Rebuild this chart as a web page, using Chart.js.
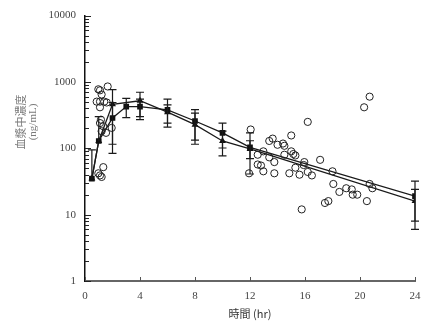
<!DOCTYPE html>
<html>
<head>
<meta charset="utf-8">
<script src="https://cdn.jsdelivr.net/npm/chart.js@4"></script>
<style>
  body { margin: 0; background: #fff; }
  #wrap { width: 436px; height: 323px; }
</style>
</head>
<body>
<div id="wrap"><canvas id="pkChart"></canvas></div>
<script>
// Plasma concentration vs time (log scale)
const xTicks = [0, 4, 8, 12, 16, 20, 24];
const yTicks = [1, 10, 100, 1000, 10000];

// Mean curve A (squares)
const sqHours = [0.5, 1, 2, 3, 4, 6, 8, 10, 12, 24];
const sqMean  = [35, 129, 286, 425, 425, 379, 258, 171, 103, 19];
const sqLow   = [35, 129, 84, 290, 270, 208, 133, 101, 41, 6];
const sqHigh  = [95, 300, 490, 565, 550, 550, 383, 240, 171, 32];

// Mean curve B (triangles)
const triHours = [0.5, 1, 2, 4, 6, 8, 10, 12, 24];
const triMean  = [35, 129, 460, 521, 350, 227, 129, 98, 16];
const triLow   = [35, 129, 115, 300, 240, 115, 77, 70, 8];
const triHigh  = [35, 129, 765, 700, 450, 339, 181, 130, 24];

// Individual observations
const obsHours = [0.97, 1.09, 1.21, 1.65, 0.85, 1.09, 1.4, 1.58, 1.09, 1.16, 1.09, 1.33, 1.21, 1.53, 1.94,
  1.33, 0.97, 1.09, 1.21,
  12.05, 11.93, 13.4, 13.65, 14.0, 14.4, 14.5, 15.0, 16.2, 12.56, 12.97, 13.4, 13.77, 12.56, 12.8, 12.97,
  13.77, 14.5, 15.0, 15.15, 15.3, 14.86, 15.3, 15.6, 15.95, 16.2, 16.5, 15.76, 15.9, 17.1, 18.0, 18.06,
  18.5, 19.0, 19.4, 19.47, 19.8, 20.5, 20.7, 20.9, 17.45, 17.7, 20.7, 20.3];
const obsConc = [775, 748, 647, 855, 505, 505, 505, 490, 415, 270, 240, 215, 181, 171, 203,
  52, 42, 39, 37,
  192, 42, 129, 140, 113, 118, 109, 156, 250, 80, 90, 73, 62, 57, 55, 45,
  42, 80, 90, 82, 78, 42, 51, 40, 62, 44, 39, 12, 56, 67, 45, 29,
  22, 25, 24, 20, 20, 16, 29, 25, 15, 16, 600, 415];

const toPoints = (xs, ys) => xs.map((x, i) => ({ x, y: ys[i] }));

const serif = "'Liberation Serif', 'Noto Sans CJK JP', serif";
const cjk = "'Noto Sans CJK JP', 'Liberation Serif', sans-serif";

// Inward tick marks on both axes
const tickMarks = {
  id: 'tickMarks',
  afterDraw(chart) {
    const { ctx, chartArea, scales: { x, y } } = chart;
    ctx.save();
    ctx.strokeStyle = '#222';
    ctx.lineWidth = 1;
    ctx.beginPath();
    for (let d = 1; d < 10000; d *= 10) {
      for (let m = 1; m <= 9; m++) {
        const py = Math.round(y.getPixelForValue(d * m)) + 0.5;
        const len = m === 1 ? 6 : 4;
        ctx.moveTo(chartArea.left, py);
        ctx.lineTo(chartArea.left + len, py);
      }
    }
    const top = Math.round(y.getPixelForValue(10000)) + 0.5;
    ctx.moveTo(chartArea.left, top);
    ctx.lineTo(chartArea.left + 6, top);
    ctx.stroke();
    ctx.strokeStyle = '#555';
    ctx.beginPath();
    xTicks.forEach(v => {
      const px = Math.round(x.getPixelForValue(v)) + 0.5;
      ctx.moveTo(px, chartArea.bottom);
      ctx.lineTo(px, chartArea.bottom - 4);
    });
    ctx.stroke();
    ctx.restore();
  }
};

// Vertical SD bars with caps
const errorBars = {
  id: 'errorBars',
  afterDatasetsDraw(chart) {
    const { ctx, scales: { x, y } } = chart;
    const sets = [[sqHours, sqLow, sqHigh], [triHours, triLow, triHigh]];
    ctx.save();
    ctx.strokeStyle = '#1a1a1a';
    ctx.lineWidth = 1.2;
    sets.forEach(([hs, lo, hi]) => {
      hs.forEach((h, i) => {
        if (lo[i] === hi[i]) return;
        const px = x.getPixelForValue(h);
        const y1 = y.getPixelForValue(lo[i]);
        const y2 = y.getPixelForValue(hi[i]);
        ctx.beginPath();
        ctx.moveTo(px, y1); ctx.lineTo(px, y2);
        ctx.moveTo(px - 4, y2); ctx.lineTo(px + 4, y2);
        if (h > 1) {
          ctx.moveTo(px - 4, y1); ctx.lineTo(px + 4, y1);
        }
        ctx.stroke();
      });
    });
    ctx.restore();
  }
};

// Rotated two-line y title
const yTitle = {
  id: 'yTitle',
  afterDraw(chart) {
    const { ctx } = chart;
    ctx.save();
    ctx.fillStyle = '#7a7a7a';
    ctx.textAlign = 'center';
    ctx.textBaseline = 'middle';
    ctx.font = '11px ' + cjk;
    ctx.translate(21, 122);
    ctx.rotate(-Math.PI / 2);
    ctx.fillText('血漿中濃度', 0, 0);
    ctx.font = '11px ' + serif;
    ctx.fillText('(ng/mL)', 0, 12);
    ctx.restore();
  }
};

new Chart(document.getElementById('pkChart'), {
  type: 'scatter',
  data: {
    datasets: [
      {
        label: 'Individual',
        data: toPoints(obsHours, obsConc),
        showLine: false,
        pointStyle: 'circle',
        pointRadius: 3.6,
        borderColor: '#222',
        borderWidth: 1,
        backgroundColor: 'rgba(0,0,0,0)',
      },
      {
        label: 'Mean A',
        data: toPoints(sqHours, sqMean),
        showLine: true,
        borderColor: '#1a1a1a',
        borderWidth: 1.3,
        pointStyle: 'rect',
        pointRadius: 4,
        backgroundColor: '#111',
        pointBorderWidth: 0,
      },
      {
        label: 'Mean B',
        data: toPoints(triHours, triMean),
        showLine: true,
        borderColor: '#1a1a1a',
        borderWidth: 1.3,
        pointStyle: 'triangle',
        pointRadius: 4,
        backgroundColor: '#111',
        pointBorderWidth: 0,
      },
    ],
  },
  options: {
    responsive: true,
    maintainAspectRatio: false,
    animation: false,
    layout: { padding: { top: 7, right: 21, left: 0, bottom: 0 } },
    plugins: {
      legend: { display: false },
      tooltip: { enabled: false },
    },
    scales: {
      x: {
        type: 'linear',
        min: 0,
        max: 24,
        afterBuildTicks: s => { s.ticks = xTicks.map(v => ({ value: v })); },
        afterFit: s => { s.height = 42; },
        grid: { display: false, drawTicks: false },
        border: { display: true, color: '#666', width: 2 },
        ticks: { color: '#444', padding: 9, font: { family: serif, size: 11 } },
        title: {
          display: true,
          text: '時間 (hr)',
          color: '#333',
          font: { family: cjk, size: 11 },
          padding: { top: 0, bottom: 3 },
        },
      },
      y: {
        type: 'logarithmic',
        min: 1,
        max: 10000,
        afterBuildTicks: s => { s.ticks = yTicks.map(v => ({ value: v })); },
        afterFit: s => { s.width = 85; },
        grid: { display: false, drawTicks: false },
        border: { display: true, color: '#111', width: 1.5 },
        ticks: {
          color: '#444',
          padding: 9,
          font: { family: serif, size: 11 },
          callback: v => String(v),
        },
      },
    },
  },
  plugins: [tickMarks, errorBars, yTitle],
});
</script>
</body>
</html>
